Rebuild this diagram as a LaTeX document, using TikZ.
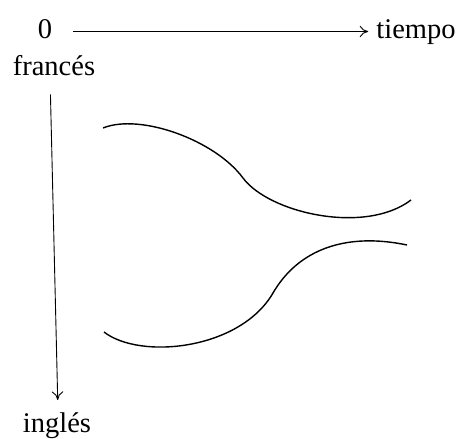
\documentclass[tikz,border=0pt]{standalone}
\usepackage{fontspec}
\setmainfont{Liberation Serif}
\usetikzlibrary{arrows.meta,positioning}
\tikzset{
  >={To[length=3mm,width=4mm]},
  lbl/.style={font=\fontsize{28.5}{32}\selectfont,inner sep=0pt,anchor=base},
  axis/.style={->,line width=0.9pt,draw=black},
  wave/.style={line width=1.4pt,draw=black},
}
\begin{document}
\begin{tikzpicture}[x=1pt,y=-1pt]
  \useasboundingbox (0,0) rectangle (461,439);
  \node[lbl] (zero) at (45,38) {0};
  \node[lbl] (tiempo) at (416,38) {tiempo};
  \node[lbl] (fr) at (54,75) {francés};
  \node[lbl] (in) at (57,432) {inglés};
  \draw[axis,shorten <=21pt,shorten >=8pt] ([yshift=6.5pt]zero.base east) -- ([yshift=6.5pt]tiempo.base west);
  \draw[axis,shorten <=19pt,shorten >=12pt] ([xshift=-4pt]fr.south) -- ([xshift=1pt]in.north);
  % the two curves
  \draw[wave] (103,128) .. controls (140,113) and (215,140) .. (243,178)
    .. controls (269,213) and (365,235) .. (411,200);
  \draw[wave] (104,332) .. controls (140,360) and (240,350) .. (273,293)
    .. controls (298,250) and (345,232) .. (407,245);
\end{tikzpicture}
\end{document}
